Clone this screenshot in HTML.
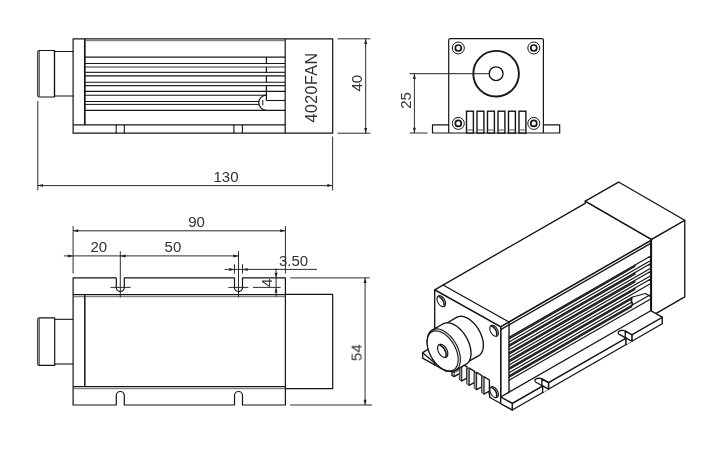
<!DOCTYPE html>
<html lang="en">
<head>
<meta charset="utf-8">
<title>4020FAN laser module dimensions</title>
<style>
html,body{margin:0;padding:0;background:#fff;}
body{width:711px;height:460px;overflow:hidden;}
svg{display:block;font-family:"Liberation Sans",sans-serif;}
</style>
</head>
<body>
<svg width="711" height="460" viewBox="0 0 711 460">
<rect x="0" y="0" width="711" height="460" fill="#ffffff"/>
<path d="M73.1 38.8 L332.7 38.8 L332.7 133.2 L73.1 133.2 Z" fill="none" stroke="#151515" stroke-width="1.2" stroke-linejoin="round" stroke-linecap="round"/>
<line x1="285.2" y1="38.8" x2="285.2" y2="133.2" stroke="#151515" stroke-width="1.2"/>
<line x1="84.8" y1="38.8" x2="84.8" y2="124.8" stroke="#151515" stroke-width="1.7"/>
<line x1="84.8" y1="40.7" x2="285.2" y2="40.7" stroke="#666" stroke-width="1"/>
<line x1="73.1" y1="124.8" x2="285.2" y2="124.8" stroke="#151515" stroke-width="1.2"/>
<line x1="116.2" y1="124.8" x2="116.2" y2="133.2" stroke="#151515" stroke-width="1.1"/>
<line x1="124.3" y1="124.8" x2="124.3" y2="133.2" stroke="#151515" stroke-width="1.1"/>
<line x1="233.9" y1="124.8" x2="233.9" y2="133.2" stroke="#151515" stroke-width="1.1"/>
<line x1="242.4" y1="124.8" x2="242.4" y2="133.2" stroke="#151515" stroke-width="1.1"/>
<path d="M54.5 50.5 L39.3 50.5 Q37.8 50.5 37.8 52 L37.8 95.5 Q37.8 97 39.3 97 L54.5 97 Z" fill="none" stroke="#151515" stroke-width="1.2" stroke-linejoin="round"/>
<line x1="39.4" y1="51" x2="39.4" y2="96.5" stroke="#444" stroke-width="0.9"/>
<path d="M54.5 51.5 L73.1 51.5" fill="none" stroke="#151515" stroke-width="1.1" stroke-linejoin="round" stroke-linecap="round"/>
<path d="M54.5 96 L73.1 96" fill="none" stroke="#151515" stroke-width="1.1" stroke-linejoin="round" stroke-linecap="round"/>
<line x1="54.5" y1="50.5" x2="54.5" y2="97" stroke="#151515" stroke-width="1.2"/>
<line x1="84.8" y1="57.1" x2="285.2" y2="57.1" stroke="#151515" stroke-width="1.1"/>
<line x1="84.8" y1="91.4" x2="285.2" y2="91.4" stroke="#151515" stroke-width="1.1"/>
<line x1="84.8" y1="110.4" x2="285.2" y2="110.4" stroke="#151515" stroke-width="1.1"/>
<line x1="84.8" y1="63.5" x2="285.2" y2="63.5" stroke="#151515" stroke-width="1.1"/>
<line x1="84.8" y1="67" x2="285.2" y2="67" stroke="#333" stroke-width="1.1"/>
<line x1="84.8" y1="72.4" x2="285.2" y2="72.4" stroke="#333" stroke-width="1.1"/>
<line x1="84.8" y1="75.9" x2="285.2" y2="75.9" stroke="#151515" stroke-width="1.1"/>
<line x1="84.8" y1="82.3" x2="285.2" y2="82.3" stroke="#151515" stroke-width="1.1"/>
<line x1="84.8" y1="85.6" x2="285.2" y2="85.6" stroke="#222" stroke-width="1.4"/>
<line x1="84.8" y1="95.2" x2="266.4" y2="95.2" stroke="#151515" stroke-width="1.1"/>
<line x1="84.8" y1="101.5" x2="259" y2="101.5" stroke="#151515" stroke-width="1"/>
<line x1="84.8" y1="104.4" x2="259" y2="104.4" stroke="#151515" stroke-width="1"/>
<line x1="266.4" y1="57.1" x2="266.4" y2="63.5" stroke="#151515" stroke-width="1.2"/>
<line x1="266.4" y1="67" x2="266.4" y2="72.4" stroke="#151515" stroke-width="1.2"/>
<line x1="266.4" y1="75.9" x2="266.4" y2="82.3" stroke="#151515" stroke-width="1.2"/>
<line x1="266.4" y1="85.6" x2="266.4" y2="91.4" stroke="#151515" stroke-width="1.2"/>
<line x1="266.4" y1="91.4" x2="266.4" y2="100.5" stroke="#151515" stroke-width="1.2"/>
<line x1="266.4" y1="100.5" x2="285.2" y2="100.5" stroke="#151515" stroke-width="1.1"/>
<path d="M266.4 95.2 A7.6 7.6 0 0 0 266.4 110.4" fill="none" stroke="#151515" stroke-width="1.2" stroke-linejoin="round"/>
<line x1="262.8" y1="100" x2="262.8" y2="105.5" stroke="#151515" stroke-width="1"/>
<line x1="337.5" y1="38.8" x2="370.4" y2="38.8" stroke="#222" stroke-width="0.95"/>
<line x1="337.5" y1="133.2" x2="370.4" y2="133.2" stroke="#222" stroke-width="0.95"/>
<line x1="365.7" y1="38.8" x2="365.7" y2="133.2" stroke="#222" stroke-width="0.95"/>
<polygon points="365.7,38.8 367.2,44 364.2,44" fill="#222"/>
<polygon points="365.7,133.2 364.2,128 367.2,128" fill="#222"/>
<line x1="37.8" y1="101" x2="37.8" y2="190.3" stroke="#222" stroke-width="0.95"/>
<line x1="332.6" y1="136.5" x2="332.6" y2="190.5" stroke="#222" stroke-width="0.95"/>
<line x1="37.8" y1="185.6" x2="332.6" y2="185.6" stroke="#222" stroke-width="0.95"/>
<polygon points="37.8,185.6 43,184.1 43,187.1" fill="#222"/>
<polygon points="332.6,185.6 327.4,187.1 327.4,184.1" fill="#222"/>
<path d="M448.7 133 L448.7 40.2 Q448.7 38.7 450.2 38.7 L541.9 38.7 Q543.4 38.7 543.4 40.2 L543.4 133" fill="none" stroke="#151515" stroke-width="1.2" stroke-linejoin="round"/>
<path d="M448.7 124.8 L432.5 124.8 L432.5 133 L559.7 133 L559.7 124.8 L543.4 124.8" fill="none" stroke="#151515" stroke-width="1.2" stroke-linejoin="round" stroke-linecap="round"/>
<circle cx="496.1" cy="73.7" r="22.8" fill="none" stroke="#151515" stroke-width="1.9"/>
<circle cx="496.1" cy="73.7" r="6.9" fill="none" stroke="#151515" stroke-width="1.3"/>
<circle cx="458.3" cy="48" r="6" fill="#fff" stroke="#151515" stroke-width="1"/>
<circle cx="458.3" cy="48" r="3" fill="none" stroke="#151515" stroke-width="1.7"/>
<circle cx="458.3" cy="123.4" r="6" fill="#fff" stroke="#151515" stroke-width="1"/>
<circle cx="458.3" cy="123.4" r="3" fill="none" stroke="#151515" stroke-width="1.7"/>
<circle cx="533.8" cy="48" r="6" fill="#fff" stroke="#151515" stroke-width="1"/>
<circle cx="533.8" cy="48" r="3" fill="none" stroke="#151515" stroke-width="1.7"/>
<circle cx="533.8" cy="123.4" r="6" fill="#fff" stroke="#151515" stroke-width="1"/>
<circle cx="533.8" cy="123.4" r="3" fill="none" stroke="#151515" stroke-width="1.7"/>
<rect x="466.5" y="111.2" width="6.9" height="21.8" fill="#fff" stroke="#151515" stroke-width="1.4"/>
<line x1="466.5" y1="130" x2="473.4" y2="130" stroke="#555" stroke-width="1"/>
<rect x="477" y="111.2" width="6.9" height="21.8" fill="#fff" stroke="#151515" stroke-width="1.4"/>
<line x1="477" y1="130" x2="483.9" y2="130" stroke="#555" stroke-width="1"/>
<rect x="487.5" y="111.2" width="6.9" height="21.8" fill="#fff" stroke="#151515" stroke-width="1.4"/>
<line x1="487.5" y1="130" x2="494.4" y2="130" stroke="#555" stroke-width="1"/>
<rect x="498" y="111.2" width="6.9" height="21.8" fill="#fff" stroke="#151515" stroke-width="1.4"/>
<line x1="498" y1="130" x2="504.9" y2="130" stroke="#555" stroke-width="1"/>
<rect x="508.5" y="111.2" width="6.9" height="21.8" fill="#fff" stroke="#151515" stroke-width="1.4"/>
<line x1="508.5" y1="130" x2="515.4" y2="130" stroke="#555" stroke-width="1"/>
<rect x="519" y="111.2" width="6.9" height="21.8" fill="#fff" stroke="#151515" stroke-width="1.4"/>
<line x1="519" y1="130" x2="525.9" y2="130" stroke="#555" stroke-width="1"/>
<line x1="409.6" y1="73.7" x2="489.2" y2="73.7" stroke="#222" stroke-width="1"/>
<line x1="409.6" y1="133" x2="427.5" y2="133" stroke="#222" stroke-width="0.95"/>
<line x1="414.4" y1="73.7" x2="414.4" y2="133" stroke="#222" stroke-width="0.95"/>
<polygon points="414.4,73.7 415.9,78.9 412.9,78.9" fill="#222"/>
<polygon points="414.4,133 412.9,127.8 415.9,127.8" fill="#222"/>
<path d="M73.1 277.9 L116.3 277.9 L116.3 287.4 A4 4 0 0 0 124.3 287.4 L124.3 277.9 L234.5 277.9 L234.5 287.4 A4 4 0 0 0 242.5 287.4 L242.5 277.9 L285.4 277.9 L285.4 405 L242.5 405 L242.5 395.5 A4 4 0 0 0 234.5 395.5 L234.5 405 L124.3 405 L124.3 395.5 A4 4 0 0 0 116.3 395.5 L116.3 405 L73.1 405 Z" fill="none" stroke="#151515" stroke-width="1.2" stroke-linejoin="round"/>
<line x1="73.1" y1="294.6" x2="285.4" y2="294.6" stroke="#151515" stroke-width="1.2"/>
<line x1="73.1" y1="296.7" x2="285.4" y2="296.7" stroke="#555" stroke-width="0.9"/>
<line x1="73.1" y1="386.7" x2="285.4" y2="386.7" stroke="#151515" stroke-width="1.2"/>
<line x1="73.1" y1="388.7" x2="285.4" y2="388.7" stroke="#555" stroke-width="0.9"/>
<line x1="84.8" y1="294.6" x2="84.8" y2="386.7" stroke="#151515" stroke-width="1.5"/>
<path d="M285.4 294.4 L332.7 294.4 L332.7 388.7 L285.4 388.7" fill="none" stroke="#151515" stroke-width="1.2" stroke-linejoin="round" stroke-linecap="round"/>
<path d="M54.7 317.9 L39.3 317.9 Q37.8 317.9 37.8 319.4 L37.8 363.9 Q37.8 365.4 39.3 365.4 L54.7 365.4 Z" fill="none" stroke="#151515" stroke-width="1.2" stroke-linejoin="round"/>
<line x1="39.4" y1="318.5" x2="39.4" y2="365" stroke="#444" stroke-width="0.9"/>
<line x1="54.7" y1="319.3" x2="73.1" y2="319.3" stroke="#151515" stroke-width="1.1"/>
<line x1="54.7" y1="364" x2="73.1" y2="364" stroke="#151515" stroke-width="1.1"/>
<line x1="73.1" y1="226.2" x2="73.1" y2="273.5" stroke="#222" stroke-width="0.95"/>
<line x1="285.4" y1="226.1" x2="285.4" y2="273.6" stroke="#222" stroke-width="0.95"/>
<line x1="73.1" y1="230.8" x2="285.4" y2="230.8" stroke="#222" stroke-width="0.95"/>
<polygon points="73.1,230.8 78.3,229.3 78.3,232.3" fill="#222"/>
<polygon points="285.4,230.8 280.2,232.3 280.2,229.3" fill="#222"/>
<line x1="63.9" y1="255.9" x2="238.5" y2="255.9" stroke="#222" stroke-width="0.95"/>
<polygon points="73.1,255.9 67.9,257.4 67.9,254.4" fill="#222"/>
<polygon points="120.3,255.9 125.5,254.4 125.5,257.4" fill="#222"/>
<polygon points="238.5,255.9 233.3,257.4 233.3,254.4" fill="#222"/>
<line x1="120.3" y1="251.2" x2="120.3" y2="297.4" stroke="#222" stroke-width="0.95"/>
<line x1="238.5" y1="251.2" x2="238.5" y2="297.3" stroke="#222" stroke-width="0.95"/>
<line x1="110.5" y1="287.4" x2="130.5" y2="287.4" stroke="#222" stroke-width="0.95"/>
<line x1="228.4" y1="287.4" x2="248.4" y2="287.4" stroke="#222" stroke-width="0.95"/>
<line x1="224.6" y1="269.4" x2="317" y2="269.4" stroke="#222" stroke-width="0.95"/>
<line x1="234.5" y1="264.2" x2="234.5" y2="273.6" stroke="#222" stroke-width="0.95"/>
<line x1="242.5" y1="264.2" x2="242.5" y2="273.6" stroke="#222" stroke-width="0.95"/>
<polygon points="234.5,269.4 229.3,270.9 229.3,267.9" fill="#222"/>
<polygon points="242.5,269.4 247.7,267.9 247.7,270.9" fill="#222"/>
<line x1="276.1" y1="268.3" x2="276.1" y2="296.5" stroke="#222" stroke-width="0.95"/>
<polygon points="276.1,277.9 274.6,272.7 277.6,272.7" fill="#222"/>
<polygon points="276.1,287.4 277.6,292.6 274.6,292.6" fill="#222"/>
<line x1="253" y1="287.4" x2="280.6" y2="287.4" stroke="#222" stroke-width="0.95"/>
<line x1="290.2" y1="277.9" x2="369.7" y2="277.9" stroke="#222" stroke-width="0.95"/>
<line x1="290.2" y1="405" x2="372" y2="405" stroke="#222" stroke-width="0.95"/>
<line x1="365.1" y1="277.9" x2="365.1" y2="405" stroke="#222" stroke-width="0.95"/>
<polygon points="365.1,277.9 366.6,283.1 363.6,283.1" fill="#222"/>
<polygon points="365.1,405 363.6,399.8 366.6,399.8" fill="#222"/>
<path d="M585.23 277.88 L651.43 316.08 L651.43 239.4 L585.23 201.2 Z" fill="#fff" stroke="#151515" stroke-width="1.35" stroke-linejoin="round" stroke-linecap="round"/>
<path d="M651.43 316.08 L684.77 296.92 L684.77 220.24 L651.43 239.4 Z" fill="#fff" stroke="#151515" stroke-width="1.35" stroke-linejoin="round" stroke-linecap="round"/>
<path d="M585.23 201.2 L651.43 239.4 L684.77 220.24 L618.57 182.04 Z" fill="#fff" stroke="#151515" stroke-width="1.35" stroke-linejoin="round" stroke-linecap="round"/>
<path d="M422.6 352.7 L428.5 349.2 L434.7 352 L434.7 364.8 L422.6 358.1 Z" fill="#fff" stroke="#151515" stroke-width="1.35" stroke-linejoin="round" stroke-linecap="round"/>
<path d="M422.6 352.7 L434.7 363" fill="none" stroke="#151515" stroke-width="1.35" stroke-linejoin="round" stroke-linecap="round"/>
<path d="M500.7 396.98 L512.25 403.46 L662.28 317.24 L650.73 310.76 Z" fill="#fff" stroke="#151515" stroke-width="1.35" stroke-linejoin="round" stroke-linecap="round"/>
<path d="M512.25 409.98 L512.25 403.46 L662.28 317.24 L662.28 323.75 Z" fill="#fff" stroke="#151515" stroke-width="1.35" stroke-linejoin="round" stroke-linecap="round"/>
<path d="M500.7 403.5 L512.25 409.98 L512.25 403.46 L500.7 396.98 Z" fill="#fff" stroke="#151515" stroke-width="1.35" stroke-linejoin="round" stroke-linecap="round"/>
<path d="M542.67 385.97 L536.07 382.27 L535.62 381.97 L535.26 381.62 L535.02 381.24 L534.9 380.84 L534.9 380.43 L535.03 380.03 L535.28 379.65 L535.64 379.29 L536.1 378.98 L536.65 378.71 L537.27 378.5 L537.95 378.36 L538.65 378.28 L539.37 378.27 L540.07 378.34 L540.74 378.47 L541.36 378.67 L541.91 378.92 L548.51 382.62 L548.51 389.14 L542.67 392.49 Z" fill="#fff" stroke="none" stroke-width="0" stroke-linejoin="round" stroke-linecap="round"/>
<path d="M541.91 378.92 L548.51 382.62 L548.51 389.14 L541.91 385.44 Z" fill="#fff" stroke="#151515" stroke-width="1.35" stroke-linejoin="round" stroke-linecap="round"/>
<path d="M542.67 385.97 L536.07 382.27 L535.62 381.97 L535.26 381.62 L535.02 381.24 L534.9 380.84 L534.9 380.43 L535.03 380.03 L535.28 379.65 L535.64 379.29 L536.1 378.98 L536.65 378.71 L537.27 378.5 L537.95 378.36 L538.65 378.28 L539.37 378.27 L540.07 378.34 L540.74 378.47 L541.36 378.67 L541.91 378.92 L548.51 382.62" fill="none" stroke="#151515" stroke-width="1.35" stroke-linejoin="round" stroke-linecap="round"/>
<path d="M542.67 385.97 L542.67 392.49" fill="none" stroke="#151515" stroke-width="1.35" stroke-linejoin="round" stroke-linecap="round"/>
<path d="M626.02 338.07 L619.42 334.37 L618.97 334.07 L618.61 333.72 L618.37 333.34 L618.25 332.94 L618.25 332.53 L618.38 332.13 L618.63 331.75 L618.99 331.39 L619.45 331.08 L620 330.81 L620.62 330.6 L621.3 330.46 L622 330.38 L622.72 330.37 L623.42 330.44 L624.09 330.57 L624.71 330.77 L625.26 331.02 L631.86 334.72 L631.86 341.24 L626.02 344.59 Z" fill="#fff" stroke="none" stroke-width="0" stroke-linejoin="round" stroke-linecap="round"/>
<path d="M625.26 331.02 L631.86 334.72 L631.86 341.24 L625.26 337.54 Z" fill="#fff" stroke="#151515" stroke-width="1.35" stroke-linejoin="round" stroke-linecap="round"/>
<path d="M626.02 338.07 L619.42 334.37 L618.97 334.07 L618.61 333.72 L618.37 333.34 L618.25 332.94 L618.25 332.53 L618.38 332.13 L618.63 331.75 L618.99 331.39 L619.45 331.08 L620 330.81 L620.62 330.6 L621.3 330.46 L622 330.38 L622.72 330.37 L623.42 330.44 L624.09 330.57 L624.71 330.77 L625.26 331.02 L631.86 334.72" fill="none" stroke="#151515" stroke-width="1.35" stroke-linejoin="round" stroke-linecap="round"/>
<path d="M626.02 338.07 L626.02 344.59" fill="none" stroke="#151515" stroke-width="1.35" stroke-linejoin="round" stroke-linecap="round"/>
<path d="M434.7 289.82 L584.73 203.6 L650.73 240.6 L500.7 326.82 Z" fill="#fff" stroke="none" stroke-width="0" stroke-linejoin="round" stroke-linecap="round"/>
<path d="M584.73 203.6 L434.7 289.82 L500.7 326.82 L650.73 240.6" fill="none" stroke="#151515" stroke-width="1.35" stroke-linejoin="round" stroke-linecap="round"/>
<path d="M500.7 403.5 L650.73 317.28 L650.73 240.6 L500.7 326.82 Z" fill="#fff" stroke="#151515" stroke-width="1.35" stroke-linejoin="round" stroke-linecap="round"/>
<path d="M434.7 366.5 L500.7 403.5 L500.7 326.82 L434.7 289.82 Z" fill="#fff" stroke="none" stroke-width="0" stroke-linejoin="round" stroke-linecap="round"/>
<path d="M489.97 397.49 L500.7 403.5 L500.7 326.82 L434.7 289.82 L434.7 364.97" fill="none" stroke="#151515" stroke-width="1.35" stroke-linejoin="round" stroke-linecap="round"/>
<path d="M488.4 389.5 L489.97 397.49" fill="none" stroke="#151515" stroke-width="1.35" stroke-linejoin="round" stroke-linecap="round"/>
<path d="M500.7 396.98 L512.25 403.46 L662.28 317.24 L650.73 310.76 Z" fill="#fff" stroke="#151515" stroke-width="1.35" stroke-linejoin="round" stroke-linecap="round"/>
<path d="M500.7 403.5 L512.25 409.98 L512.25 403.46 L500.7 396.98 Z" fill="#fff" stroke="#151515" stroke-width="1.35" stroke-linejoin="round" stroke-linecap="round"/>
<path d="M542.67 385.97 L536.07 382.27 L535.62 381.97 L535.26 381.62 L535.02 381.24 L534.9 380.84 L534.9 380.43 L535.03 380.03 L535.28 379.65 L535.64 379.29 L536.1 378.98 L536.65 378.71 L537.27 378.5 L537.95 378.36 L538.65 378.28 L539.37 378.27 L540.07 378.34 L540.74 378.47 L541.36 378.67 L541.91 378.92 L548.51 382.62 L548.51 389.14 L542.67 392.49 Z" fill="#fff" stroke="none" stroke-width="0" stroke-linejoin="round" stroke-linecap="round"/>
<path d="M541.91 378.92 L548.51 382.62 L548.51 389.14 L541.91 385.44 Z" fill="#fff" stroke="#151515" stroke-width="1.35" stroke-linejoin="round" stroke-linecap="round"/>
<path d="M542.67 385.97 L536.07 382.27 L535.62 381.97 L535.26 381.62 L535.02 381.24 L534.9 380.84 L534.9 380.43 L535.03 380.03 L535.28 379.65 L535.64 379.29 L536.1 378.98 L536.65 378.71 L537.27 378.5 L537.95 378.36 L538.65 378.28 L539.37 378.27 L540.07 378.34 L540.74 378.47 L541.36 378.67 L541.91 378.92 L548.51 382.62" fill="none" stroke="#151515" stroke-width="1.35" stroke-linejoin="round" stroke-linecap="round"/>
<path d="M542.67 385.97 L542.67 392.49" fill="none" stroke="#151515" stroke-width="1.35" stroke-linejoin="round" stroke-linecap="round"/>
<path d="M626.02 338.07 L619.42 334.37 L618.97 334.07 L618.61 333.72 L618.37 333.34 L618.25 332.94 L618.25 332.53 L618.38 332.13 L618.63 331.75 L618.99 331.39 L619.45 331.08 L620 330.81 L620.62 330.6 L621.3 330.46 L622 330.38 L622.72 330.37 L623.42 330.44 L624.09 330.57 L624.71 330.77 L625.26 331.02 L631.86 334.72 L631.86 341.24 L626.02 344.59 Z" fill="#fff" stroke="none" stroke-width="0" stroke-linejoin="round" stroke-linecap="round"/>
<path d="M625.26 331.02 L631.86 334.72 L631.86 341.24 L625.26 337.54 Z" fill="#fff" stroke="#151515" stroke-width="1.35" stroke-linejoin="round" stroke-linecap="round"/>
<path d="M626.02 338.07 L619.42 334.37 L618.97 334.07 L618.61 333.72 L618.37 333.34 L618.25 332.94 L618.25 332.53 L618.38 332.13 L618.63 331.75 L618.99 331.39 L619.45 331.08 L620 330.81 L620.62 330.6 L621.3 330.46 L622 330.38 L622.72 330.37 L623.42 330.44 L624.09 330.57 L624.71 330.77 L625.26 331.02 L631.86 334.72" fill="none" stroke="#151515" stroke-width="1.35" stroke-linejoin="round" stroke-linecap="round"/>
<path d="M626.02 338.07 L626.02 344.59" fill="none" stroke="#151515" stroke-width="1.35" stroke-linejoin="round" stroke-linecap="round"/>
<path d="M443.03 285.03 L509.03 322.03 L509.03 392.19" fill="none" stroke="#151515" stroke-width="1.35" stroke-linejoin="round" stroke-linecap="round"/>
<path d="M500.7 329.6 L650.73 243.38" fill="none" stroke="#151515" stroke-width="1.35" stroke-linejoin="round" stroke-linecap="round"/>
<path d="M509.03 337.33 L634.89 265 L634.89 266.61 L509.03 338.94 Z" fill="#666" stroke="none" stroke-width="0" stroke-linejoin="round" stroke-linecap="round"/>
<path d="M509.03 337.33 L650.73 255.9" fill="none" stroke="#151515" stroke-width="1.15" stroke-linejoin="round" stroke-linecap="round"/>
<path d="M509.03 338.94 L634.89 266.61 L634.89 265" fill="none" stroke="#151515" stroke-width="1.15" stroke-linejoin="round" stroke-linecap="round"/>
<path d="M509.03 341.97 L650.73 260.54" fill="none" stroke="#151515" stroke-width="1.15" stroke-linejoin="round" stroke-linecap="round"/>
<path d="M648.4 257.24 L650.73 257.62" fill="none" stroke="#151515" stroke-width="0.9" stroke-linejoin="round" stroke-linecap="round"/>
<path d="M509.03 345 L634.89 272.67 L634.89 274.28 L509.03 346.61 Z" fill="#666" stroke="none" stroke-width="0" stroke-linejoin="round" stroke-linecap="round"/>
<path d="M509.03 345 L650.73 263.57" fill="none" stroke="#151515" stroke-width="1.15" stroke-linejoin="round" stroke-linecap="round"/>
<path d="M509.03 346.61 L634.89 274.28 L634.89 272.67" fill="none" stroke="#151515" stroke-width="1.15" stroke-linejoin="round" stroke-linecap="round"/>
<path d="M509.03 349.63 L650.73 268.2" fill="none" stroke="#151515" stroke-width="1.15" stroke-linejoin="round" stroke-linecap="round"/>
<path d="M648.4 264.91 L650.73 265.29" fill="none" stroke="#151515" stroke-width="0.9" stroke-linejoin="round" stroke-linecap="round"/>
<path d="M509.03 352.66 L634.89 280.33 L634.89 281.94 L509.03 354.27 Z" fill="#666" stroke="none" stroke-width="0" stroke-linejoin="round" stroke-linecap="round"/>
<path d="M509.03 352.66 L650.73 271.23" fill="none" stroke="#151515" stroke-width="1.15" stroke-linejoin="round" stroke-linecap="round"/>
<path d="M509.03 354.27 L634.89 281.94 L634.89 280.33" fill="none" stroke="#151515" stroke-width="1.15" stroke-linejoin="round" stroke-linecap="round"/>
<path d="M509.03 357.3 L650.73 275.87" fill="none" stroke="#151515" stroke-width="1.15" stroke-linejoin="round" stroke-linecap="round"/>
<path d="M648.4 272.57 L650.73 272.96" fill="none" stroke="#151515" stroke-width="0.9" stroke-linejoin="round" stroke-linecap="round"/>
<path d="M509.03 360.33 L634.89 288 L634.89 289.61 L509.03 361.94 Z" fill="#666" stroke="none" stroke-width="0" stroke-linejoin="round" stroke-linecap="round"/>
<path d="M509.03 360.33 L650.73 278.9" fill="none" stroke="#151515" stroke-width="1.15" stroke-linejoin="round" stroke-linecap="round"/>
<path d="M509.03 361.94 L634.89 289.61 L634.89 288" fill="none" stroke="#151515" stroke-width="1.15" stroke-linejoin="round" stroke-linecap="round"/>
<path d="M509.03 364.97 L650.73 283.54" fill="none" stroke="#151515" stroke-width="1.15" stroke-linejoin="round" stroke-linecap="round"/>
<path d="M648.4 280.24 L650.73 280.63" fill="none" stroke="#151515" stroke-width="0.9" stroke-linejoin="round" stroke-linecap="round"/>
<path d="M509.03 368 L631.73 297.49 L631.73 299.1 L509.03 369.61 Z" fill="#666" stroke="none" stroke-width="0" stroke-linejoin="round" stroke-linecap="round"/>
<path d="M509.03 368 L631.73 297.49" fill="none" stroke="#151515" stroke-width="1.15" stroke-linejoin="round" stroke-linecap="round"/>
<path d="M509.03 369.61 L631.73 299.1 L631.73 297.49" fill="none" stroke="#151515" stroke-width="1.15" stroke-linejoin="round" stroke-linecap="round"/>
<path d="M509.03 372.64 L631.73 302.13" fill="none" stroke="#151515" stroke-width="1.15" stroke-linejoin="round" stroke-linecap="round"/>
<path d="M509.03 375.67 L631.73 305.16 L631.73 306.77 L509.03 377.28 Z" fill="#666" stroke="none" stroke-width="0" stroke-linejoin="round" stroke-linecap="round"/>
<path d="M509.03 375.67 L631.73 305.16" fill="none" stroke="#151515" stroke-width="1.15" stroke-linejoin="round" stroke-linecap="round"/>
<path d="M509.03 377.28 L631.73 306.77 L631.73 305.16" fill="none" stroke="#151515" stroke-width="1.15" stroke-linejoin="round" stroke-linecap="round"/>
<path d="M509.03 380.31 L650.73 298.88" fill="none" stroke="#151515" stroke-width="1.15" stroke-linejoin="round" stroke-linecap="round"/>
<path d="M631.73 297.34 Q630.53 301.22 632.83 305.1" fill="none" stroke="#151515" stroke-width="1.6" stroke-linejoin="round"/>
<path d="M631.73 297.34 L645.53 293.44 L650.73 296.74" fill="none" stroke="#151515" stroke-width="1.1" stroke-linejoin="round" stroke-linecap="round"/>
<path d="M632.23 305.1 L650.73 294.47" fill="none" stroke="#151515" stroke-width="1.1" stroke-linejoin="round" stroke-linecap="round"/>
<path d="M445.59 303.59 L445.57 303.15 L445.52 302.69 L445.44 302.22 L445.33 301.74 L445.19 301.26 L445.02 300.78 L444.81 300.3 L444.59 299.83 L444.33 299.36 L444.06 298.92 L443.76 298.48 L443.44 298.07 L443.11 297.69 L442.77 297.33 L442.41 297 L442.04 296.7 L441.67 296.43 L441.3 296.2 L440.93 296.01 L440.56 295.86 L440.19 295.75 L439.83 295.68 L439.49 295.65 L439.15 295.67 L438.84 295.73 L438.54 295.82 L438.27 295.96 L438.01 296.14 L437.79 296.36 L437.58 296.61 L437.41 296.9 L437.27 297.22 L437.16 297.57 L437.08 297.95 L437.03 298.36 L437.01 298.78 L437.03 299.23 L437.08 299.69 L437.16 300.15 L437.27 300.63 L437.41 301.11 L437.58 301.6 L437.79 302.08 L438.01 302.55 L438.27 303.01 L438.54 303.46 L438.84 303.89 L439.15 304.3 L439.49 304.69 L439.83 305.05 L440.19 305.38 L440.56 305.68 L440.93 305.94 L441.3 306.17 L441.67 306.36 L442.04 306.51 L442.41 306.62 L442.77 306.69 L443.11 306.72 L443.44 306.71 L443.76 306.65 L444.06 306.55 L444.33 306.41 L444.59 306.23 L444.81 306.02 L445.02 305.76 L445.19 305.47 L445.33 305.15 L445.44 304.8 L445.52 304.42 L445.57 304.02 L445.59 303.59 Z" fill="#fff" stroke="#151515" stroke-width="1.1" stroke-linejoin="round" stroke-linecap="round"/>
<clipPath id="h4_36"><path d="M445.59 303.59 L445.57 303.15 L445.52 302.69 L445.44 302.22 L445.33 301.74 L445.19 301.26 L445.02 300.78 L444.81 300.3 L444.59 299.83 L444.33 299.36 L444.06 298.92 L443.76 298.48 L443.44 298.07 L443.11 297.69 L442.77 297.33 L442.41 297 L442.04 296.7 L441.67 296.43 L441.3 296.2 L440.93 296.01 L440.56 295.86 L440.19 295.75 L439.83 295.68 L439.49 295.65 L439.15 295.67 L438.84 295.73 L438.54 295.82 L438.27 295.96 L438.01 296.14 L437.79 296.36 L437.58 296.61 L437.41 296.9 L437.27 297.22 L437.16 297.57 L437.08 297.95 L437.03 298.36 L437.01 298.78 L437.03 299.23 L437.08 299.69 L437.16 300.15 L437.27 300.63 L437.41 301.11 L437.58 301.6 L437.79 302.08 L438.01 302.55 L438.27 303.01 L438.54 303.46 L438.84 303.89 L439.15 304.3 L439.49 304.69 L439.83 305.05 L440.19 305.38 L440.56 305.68 L440.93 305.94 L441.3 306.17 L441.67 306.36 L442.04 306.51 L442.41 306.62 L442.77 306.69 L443.11 306.72 L443.44 306.71 L443.76 306.65 L444.06 306.55 L444.33 306.41 L444.59 306.23 L444.81 306.02 L445.02 305.76 L445.19 305.47 L445.33 305.15 L445.44 304.8 L445.52 304.42 L445.57 304.02 L445.59 303.59 Z"/></clipPath>
<path d="M440.91 307.49 L441.08 307.53 L441.26 307.56 L441.43 307.57 L441.59 307.58 L441.76 307.58 L441.92 307.57 L442.07 307.55 L442.23 307.52 L442.37 307.48 L442.52 307.43 L442.66 307.37 L442.79 307.3 L442.92 307.22 L443.04 307.13 L443.16 307.04 L443.27 306.93 L443.37 306.82 L443.47 306.69 L443.56 306.56 L443.64 306.42 L443.72 306.27 L443.79 306.12 L443.85 305.95 L443.91 305.78 L443.96 305.61 L444 305.42 L444.03 305.23 L444.06 305.04 L444.08 304.84 L444.09 304.63 L444.09 304.42 L444.08 304.21 L444.07 303.99 L444.05 303.77 L444.02 303.55 L443.99 303.32 L443.94 303.09 L443.89 302.86 L443.84 302.63 L443.77 302.39 L443.7 302.16 L443.62 301.92 L443.53 301.69 L443.44 301.45 L443.34 301.22 L443.23 300.99 L443.12 300.76 L443 300.53 L442.88 300.31 L442.75 300.09 L442.62 299.87 L442.48 299.66 L442.33 299.45 L442.18 299.24 L442.03 299.04 L441.87 298.85 L441.71 298.66 L441.55 298.48 L441.38 298.3 L441.21 298.13 L441.04 297.97 L440.86 297.81 L440.68 297.67 L440.5 297.53 L440.32 297.4 L440.14 297.27 L439.96 297.16 L439.78 297.05 L439.6 296.96 L439.42 296.87 L439.23 296.79 L439.05 296.72" fill="none" stroke="#151515" stroke-width="1.5" stroke-linejoin="round" stroke-linecap="round" clip-path="url(#h4_36)"/>
<path d="M498.39 333.19 L498.37 332.75 L498.32 332.29 L498.24 331.82 L498.13 331.34 L497.99 330.86 L497.82 330.38 L497.61 329.9 L497.39 329.43 L497.13 328.96 L496.86 328.52 L496.56 328.08 L496.25 327.67 L495.91 327.29 L495.57 326.93 L495.21 326.6 L494.84 326.3 L494.47 326.03 L494.1 325.8 L493.73 325.61 L493.36 325.46 L492.99 325.35 L492.63 325.28 L492.29 325.25 L491.95 325.27 L491.64 325.33 L491.34 325.42 L491.07 325.56 L490.81 325.74 L490.59 325.96 L490.38 326.21 L490.21 326.5 L490.07 326.82 L489.96 327.17 L489.88 327.55 L489.83 327.96 L489.81 328.38 L489.83 328.83 L489.88 329.29 L489.96 329.75 L490.07 330.23 L490.21 330.71 L490.38 331.2 L490.59 331.68 L490.81 332.15 L491.07 332.61 L491.34 333.06 L491.64 333.49 L491.95 333.9 L492.29 334.29 L492.63 334.65 L492.99 334.98 L493.36 335.28 L493.73 335.54 L494.1 335.77 L494.47 335.96 L494.84 336.11 L495.21 336.22 L495.57 336.29 L495.91 336.32 L496.25 336.31 L496.56 336.25 L496.86 336.15 L497.13 336.01 L497.39 335.83 L497.61 335.62 L497.82 335.36 L497.99 335.07 L498.13 334.75 L498.24 334.4 L498.32 334.02 L498.37 333.62 L498.39 333.19 Z" fill="#fff" stroke="#151515" stroke-width="1.1" stroke-linejoin="round" stroke-linecap="round"/>
<clipPath id="h36_36"><path d="M498.39 333.19 L498.37 332.75 L498.32 332.29 L498.24 331.82 L498.13 331.34 L497.99 330.86 L497.82 330.38 L497.61 329.9 L497.39 329.43 L497.13 328.96 L496.86 328.52 L496.56 328.08 L496.25 327.67 L495.91 327.29 L495.57 326.93 L495.21 326.6 L494.84 326.3 L494.47 326.03 L494.1 325.8 L493.73 325.61 L493.36 325.46 L492.99 325.35 L492.63 325.28 L492.29 325.25 L491.95 325.27 L491.64 325.33 L491.34 325.42 L491.07 325.56 L490.81 325.74 L490.59 325.96 L490.38 326.21 L490.21 326.5 L490.07 326.82 L489.96 327.17 L489.88 327.55 L489.83 327.96 L489.81 328.38 L489.83 328.83 L489.88 329.29 L489.96 329.75 L490.07 330.23 L490.21 330.71 L490.38 331.2 L490.59 331.68 L490.81 332.15 L491.07 332.61 L491.34 333.06 L491.64 333.49 L491.95 333.9 L492.29 334.29 L492.63 334.65 L492.99 334.98 L493.36 335.28 L493.73 335.54 L494.1 335.77 L494.47 335.96 L494.84 336.11 L495.21 336.22 L495.57 336.29 L495.91 336.32 L496.25 336.31 L496.56 336.25 L496.86 336.15 L497.13 336.01 L497.39 335.83 L497.61 335.62 L497.82 335.36 L497.99 335.07 L498.13 334.75 L498.24 334.4 L498.32 334.02 L498.37 333.62 L498.39 333.19 Z"/></clipPath>
<path d="M493.71 337.09 L493.88 337.13 L494.06 337.16 L494.23 337.17 L494.39 337.18 L494.56 337.18 L494.72 337.17 L494.87 337.15 L495.03 337.12 L495.17 337.08 L495.32 337.03 L495.46 336.97 L495.59 336.9 L495.72 336.82 L495.84 336.73 L495.96 336.64 L496.07 336.53 L496.17 336.42 L496.27 336.29 L496.36 336.16 L496.44 336.02 L496.52 335.87 L496.59 335.72 L496.65 335.55 L496.71 335.38 L496.76 335.21 L496.8 335.02 L496.83 334.83 L496.86 334.64 L496.88 334.44 L496.89 334.23 L496.89 334.02 L496.88 333.81 L496.87 333.59 L496.85 333.37 L496.82 333.15 L496.79 332.92 L496.74 332.69 L496.69 332.46 L496.64 332.23 L496.57 331.99 L496.5 331.76 L496.42 331.52 L496.33 331.29 L496.24 331.05 L496.14 330.82 L496.03 330.59 L495.92 330.36 L495.8 330.13 L495.68 329.91 L495.55 329.69 L495.42 329.47 L495.28 329.26 L495.13 329.05 L494.98 328.84 L494.83 328.64 L494.67 328.45 L494.51 328.26 L494.35 328.08 L494.18 327.9 L494.01 327.73 L493.84 327.57 L493.66 327.41 L493.48 327.27 L493.3 327.13 L493.12 327 L492.94 326.87 L492.76 326.76 L492.58 326.65 L492.4 326.56 L492.22 326.47 L492.03 326.39 L491.85 326.32" fill="none" stroke="#151515" stroke-width="1.5" stroke-linejoin="round" stroke-linecap="round" clip-path="url(#h36_36)"/>
<path d="M498.39 394.54 L498.37 394.09 L498.32 393.63 L498.24 393.17 L498.13 392.69 L497.99 392.21 L497.82 391.72 L497.61 391.24 L497.39 390.77 L497.13 390.31 L496.86 389.86 L496.56 389.43 L496.25 389.02 L495.91 388.63 L495.57 388.27 L495.21 387.94 L494.84 387.64 L494.47 387.38 L494.1 387.15 L493.73 386.96 L493.36 386.81 L492.99 386.7 L492.63 386.63 L492.29 386.6 L491.95 386.61 L491.64 386.67 L491.34 386.77 L491.07 386.91 L490.81 387.09 L490.59 387.3 L490.38 387.56 L490.21 387.85 L490.07 388.17 L489.96 388.52 L489.88 388.9 L489.83 389.3 L489.81 389.73 L489.83 390.17 L489.88 390.63 L489.96 391.1 L490.07 391.58 L490.21 392.06 L490.38 392.54 L490.59 393.02 L490.81 393.49 L491.07 393.96 L491.34 394.4 L491.64 394.84 L491.95 395.25 L492.29 395.63 L492.63 395.99 L492.99 396.32 L493.36 396.62 L493.73 396.89 L494.1 397.12 L494.47 397.31 L494.84 397.46 L495.21 397.57 L495.57 397.64 L495.91 397.67 L496.25 397.65 L496.56 397.59 L496.86 397.5 L497.13 397.36 L497.39 397.18 L497.61 396.96 L497.82 396.71 L497.99 396.42 L498.13 396.1 L498.24 395.75 L498.32 395.37 L498.37 394.96 L498.39 394.54 Z" fill="#fff" stroke="#151515" stroke-width="1.1" stroke-linejoin="round" stroke-linecap="round"/>
<clipPath id="h36_4"><path d="M498.39 394.54 L498.37 394.09 L498.32 393.63 L498.24 393.17 L498.13 392.69 L497.99 392.21 L497.82 391.72 L497.61 391.24 L497.39 390.77 L497.13 390.31 L496.86 389.86 L496.56 389.43 L496.25 389.02 L495.91 388.63 L495.57 388.27 L495.21 387.94 L494.84 387.64 L494.47 387.38 L494.1 387.15 L493.73 386.96 L493.36 386.81 L492.99 386.7 L492.63 386.63 L492.29 386.6 L491.95 386.61 L491.64 386.67 L491.34 386.77 L491.07 386.91 L490.81 387.09 L490.59 387.3 L490.38 387.56 L490.21 387.85 L490.07 388.17 L489.96 388.52 L489.88 388.9 L489.83 389.3 L489.81 389.73 L489.83 390.17 L489.88 390.63 L489.96 391.1 L490.07 391.58 L490.21 392.06 L490.38 392.54 L490.59 393.02 L490.81 393.49 L491.07 393.96 L491.34 394.4 L491.64 394.84 L491.95 395.25 L492.29 395.63 L492.63 395.99 L492.99 396.32 L493.36 396.62 L493.73 396.89 L494.1 397.12 L494.47 397.31 L494.84 397.46 L495.21 397.57 L495.57 397.64 L495.91 397.67 L496.25 397.65 L496.56 397.59 L496.86 397.5 L497.13 397.36 L497.39 397.18 L497.61 396.96 L497.82 396.71 L497.99 396.42 L498.13 396.1 L498.24 395.75 L498.32 395.37 L498.37 394.96 L498.39 394.54 Z"/></clipPath>
<path d="M493.71 398.43 L493.88 398.47 L494.06 398.5 L494.23 398.52 L494.39 398.53 L494.56 398.53 L494.72 398.52 L494.87 398.5 L495.03 398.46 L495.17 398.42 L495.32 398.37 L495.46 398.31 L495.59 398.25 L495.72 398.17 L495.84 398.08 L495.96 397.98 L496.07 397.87 L496.17 397.76 L496.27 397.64 L496.36 397.5 L496.44 397.36 L496.52 397.22 L496.59 397.06 L496.65 396.9 L496.71 396.73 L496.76 396.55 L496.8 396.37 L496.83 396.18 L496.86 395.98 L496.88 395.78 L496.89 395.58 L496.89 395.37 L496.88 395.15 L496.87 394.94 L496.85 394.72 L496.82 394.49 L496.79 394.26 L496.74 394.03 L496.69 393.8 L496.64 393.57 L496.57 393.34 L496.5 393.1 L496.42 392.87 L496.33 392.63 L496.24 392.4 L496.14 392.17 L496.03 391.93 L495.92 391.7 L495.8 391.48 L495.68 391.25 L495.55 391.03 L495.42 390.81 L495.28 390.6 L495.13 390.39 L494.98 390.19 L494.83 389.99 L494.67 389.79 L494.51 389.6 L494.35 389.42 L494.18 389.25 L494.01 389.08 L493.84 388.91 L493.66 388.76 L493.48 388.61 L493.3 388.47 L493.12 388.34 L492.94 388.22 L492.76 388.1 L492.58 388 L492.4 387.9 L492.22 387.81 L492.03 387.74 L491.85 387.67" fill="none" stroke="#151515" stroke-width="1.5" stroke-linejoin="round" stroke-linecap="round" clip-path="url(#h36_4)"/>
<path d="M452 371.6 L459.8 367.2 L459.8 373.4 L454.2 376.6 L452 375.4 Z" fill="#fff" stroke="#151515" stroke-width="1.35" stroke-linejoin="round" stroke-linecap="round"/>
<path d="M454.2 376.6 L454.2 372.6 L452 371.6" fill="none" stroke="#151515" stroke-width="0.9" stroke-linejoin="round" stroke-linecap="round"/>
<path d="M454.2 372.6 L459.8 369.4" fill="none" stroke="#151515" stroke-width="0.9" stroke-linejoin="round" stroke-linecap="round"/>
<path d="M459.55 364.45 L461.75 363.75 L467.05 366.95 L467.05 378.05 L461.75 380.95 L459.55 379.15 Z" fill="#fff" stroke="#151515" stroke-width="1.35" stroke-linejoin="round" stroke-linecap="round"/>
<path d="M459.55 364.45 L461.75 363.75 L461.75 380.95 L459.55 379.15 Z" fill="#999" stroke="none" stroke-width="0" stroke-linejoin="round" stroke-linecap="round"/>
<path d="M461.75 363.75 L461.75 380.95" fill="none" stroke="#151515" stroke-width="1" stroke-linejoin="round" stroke-linecap="round"/>
<path d="M467 368.8 L469.2 368.1 L474.5 371.3 L474.5 382.4 L469.2 385.3 L467 383.5 Z" fill="#fff" stroke="#151515" stroke-width="1.35" stroke-linejoin="round" stroke-linecap="round"/>
<path d="M467 368.8 L469.2 368.1 L469.2 385.3 L467 383.5 Z" fill="#999" stroke="none" stroke-width="0" stroke-linejoin="round" stroke-linecap="round"/>
<path d="M469.2 368.1 L469.2 385.3" fill="none" stroke="#151515" stroke-width="1" stroke-linejoin="round" stroke-linecap="round"/>
<path d="M474.45 373.15 L476.65 372.45 L481.95 375.65 L481.95 386.75 L476.65 389.65 L474.45 387.85 Z" fill="#fff" stroke="#151515" stroke-width="1.35" stroke-linejoin="round" stroke-linecap="round"/>
<path d="M474.45 373.15 L476.65 372.45 L476.65 389.65 L474.45 387.85 Z" fill="#999" stroke="none" stroke-width="0" stroke-linejoin="round" stroke-linecap="round"/>
<path d="M476.65 372.45 L476.65 389.65" fill="none" stroke="#151515" stroke-width="1" stroke-linejoin="round" stroke-linecap="round"/>
<path d="M481.9 377.5 L484.1 376.8 L489.4 380 L489.4 391.1 L484.1 394 L481.9 392.2 Z" fill="#fff" stroke="#151515" stroke-width="1.35" stroke-linejoin="round" stroke-linecap="round"/>
<path d="M481.9 377.5 L484.1 376.8 L484.1 394 L481.9 392.2 Z" fill="#999" stroke="none" stroke-width="0" stroke-linejoin="round" stroke-linecap="round"/>
<path d="M484.1 376.8 L484.1 394" fill="none" stroke="#151515" stroke-width="1" stroke-linejoin="round" stroke-linecap="round"/>
<path d="M438.86 335.28 L438.92 333.73 L439.09 332.25 L439.39 330.87 L439.8 329.58 L440.32 328.41 L440.96 327.35 L441.69 326.42 L442.52 325.63 L443.45 324.98 L456.62 317.41 L457.62 316.9 L458.71 316.54 L459.86 316.33 L461.07 316.28 L462.34 316.38 L463.64 316.63 L464.98 317.04 L466.33 317.59 L467.7 318.29 L469.07 319.12 L470.42 320.09 L471.76 321.18 L473.06 322.39 L474.32 323.71 L475.54 325.12 L476.69 326.62 L477.78 328.2 L478.78 329.84 L479.71 331.52 L480.54 333.25 L481.27 335 L481.91 336.77 L482.43 338.53 L482.84 340.27 L483.14 341.99 L483.31 343.67 L483.38 345.29 L483.31 346.84 L483.14 348.32 L482.84 349.7 L482.43 350.99 L481.91 352.16 L481.27 353.22 L480.54 354.14 L479.71 354.94 L478.78 355.59 L465.62 363.16 L464.61 363.67 L463.52 364.03 L462.37 364.23 L461.15 364.29 L459.89 364.19 L458.59 363.93 L457.25 363.53 L455.9 362.98 L454.53 362.28 L453.17 361.44 L451.81 360.48 L450.47 359.38 L449.17 358.18 L447.91 356.86 L446.69 355.45 L445.54 353.95 L444.45 352.37 L443.45 350.73 L442.52 349.04 L441.69 347.31 L440.96 345.56 L440.32 343.8 L439.8 342.04 L439.39 340.29 L439.09 338.58 L438.92 336.9 Z" fill="#fff" stroke="#151515" stroke-width="1.35" stroke-linejoin="round" stroke-linecap="round"/>
<path d="M427.19 342.18 L427.24 340.64 L427.42 339.18 L427.61 337.76 L427.92 336.3 L428.36 334.95 L428.91 333.71 L429.57 332.6 L430.35 331.63 L431.22 330.79 L432.19 330.1 L442.86 323.97 L443.93 323.44 L445.07 323.06 L446.28 322.84 L447.56 322.79 L448.89 322.89 L450.26 323.16 L451.67 323.58 L453.09 324.17 L454.53 324.9 L455.97 325.78 L457.4 326.8 L458.8 327.94 L460.17 329.22 L461.5 330.6 L462.78 332.09 L464 333.67 L465.14 335.33 L466.2 337.05 L467.17 338.83 L468.05 340.65 L468.82 342.49 L469.49 344.35 L470.04 346.2 L470.47 348.04 L470.78 349.85 L470.97 351.61 L471.03 353.32 L470.97 354.95 L470.78 356.51 L470.47 357.96 L470.04 359.32 L469.49 360.55 L468.82 361.66 L468.05 362.64 L467.17 363.48 L466.2 364.16 L455.53 370.3 L454.47 370.83 L453.33 371.21 L452.11 371.43 L450.83 371.48 L449.5 371.38 L448.13 371.11 L446.73 370.68 L445.3 370.1 L444.05 369.58 L442.69 368.89 L441.34 368.06 L440 367.11 L438.68 366.02 L437.39 364.83 L436.14 363.53 L434.94 362.13 L433.8 360.64 L432.73 359.08 L431.73 357.46 L430.81 355.79 L429.99 354.08 L429.26 352.35 L428.64 350.61 L428.12 348.86 L427.71 347.13 L427.42 345.44 L427.24 343.78 Z" fill="#fff" stroke="#151515" stroke-width="1.35" stroke-linejoin="round" stroke-linecap="round"/>
<path d="M460.36 359.45 L460.3 357.74 L460.11 355.98 L459.8 354.17 L459.37 352.33 L458.82 350.48 L458.15 348.63 L457.38 346.78 L456.5 344.96 L455.53 343.18 L454.47 341.46 L453.33 339.8 L452.11 338.22 L450.84 336.73 L449.51 335.35 L448.13 334.08 L446.73 332.93 L445.3 331.91 L443.86 331.03 L442.42 330.3 L441 329.71 L439.59 329.29 L438.22 329.02 L436.89 328.92 L435.61 328.97 L434.4 329.19 L433.26 329.57 L432.19 330.1 L431.22 330.79 L430.35 331.63 L429.57 332.6 L428.91 333.71 L428.36 334.95 L427.92 336.3 L427.61 337.76 L427.42 339.31 L427.36 340.95 L427.42 342.66 L427.61 344.42 L427.92 346.23 L428.36 348.06 L428.91 349.92 L429.57 351.77 L430.35 353.62 L431.22 355.44 L432.19 357.21 L433.26 358.94 L434.4 360.6 L435.61 362.18 L436.89 363.66 L438.22 365.05 L439.59 366.32 L441 367.47 L442.42 368.49 L443.86 369.37 L445.3 370.1 L446.73 370.68 L448.13 371.11 L449.51 371.38 L450.84 371.48 L452.11 371.43 L453.33 371.21 L454.47 370.83 L455.53 370.3 L456.5 369.61 L457.38 368.77 L458.15 367.8 L458.82 366.68 L459.37 365.45 L459.8 364.1 L460.11 362.64 L460.3 361.08 L460.36 359.45 Z" fill="none" stroke="#151515" stroke-width="1.15" stroke-linejoin="round" stroke-linecap="round"/>
<path d="M458.2 359.56 L458.15 357.96 L457.97 356.3 L457.68 354.6 L457.27 352.88 L456.75 351.13 L456.13 349.39 L455.4 347.66 L454.58 345.95 L453.66 344.28 L452.66 342.65 L451.59 341.1 L450.45 339.61 L449.25 338.21 L448 336.91 L446.71 335.71 L445.39 334.63 L444.05 333.68 L442.69 332.85 L441.34 332.16 L440 331.61 L438.68 331.21 L437.39 330.96 L436.14 330.86 L434.94 330.92 L433.8 331.12 L432.73 331.48 L431.73 331.98 L430.81 332.63 L429.99 333.41 L429.26 334.33 L428.64 335.37 L428.12 336.54 L427.71 337.81 L427.42 339.18 L427.24 340.64 L427.19 342.17 L427.24 343.78 L427.42 345.44 L427.71 347.14 L428.12 348.86 L428.64 350.61 L429.26 352.35 L429.99 354.08 L430.81 355.79 L431.73 357.46 L432.73 359.08 L433.8 360.64 L434.94 362.13 L436.14 363.53 L437.39 364.83 L438.68 366.03 L440 367.11 L441.34 368.06 L442.69 368.89 L444.05 369.58 L445.39 370.13 L446.71 370.53 L448 370.78 L449.25 370.88 L450.45 370.82 L451.59 370.62 L452.66 370.26 L453.66 369.76 L454.58 369.11 L455.4 368.33 L456.13 367.41 L456.75 366.37 L457.27 365.2 L457.68 363.93 L457.97 362.56 L458.15 361.1 L458.2 359.56 Z" fill="#fff" stroke="#151515" stroke-width="1.15" stroke-linejoin="round" stroke-linecap="round"/>
<path d="M447.81 353.74 L447.79 353.21 L447.73 352.66 L447.64 352.1 L447.5 351.53 L447.33 350.96 L447.12 350.38 L446.88 349.81 L446.61 349.25 L446.31 348.7 L445.98 348.16 L445.63 347.65 L445.25 347.16 L444.86 346.7 L444.44 346.27 L444.02 345.87 L443.58 345.52 L443.14 345.2 L442.69 344.93 L442.25 344.7 L441.81 344.52 L441.37 344.39 L440.95 344.3 L440.53 344.27 L440.14 344.29 L439.76 344.36 L439.41 344.47 L439.08 344.64 L438.78 344.85 L438.51 345.11 L438.27 345.42 L438.06 345.76 L437.89 346.14 L437.75 346.56 L437.66 347.01 L437.6 347.5 L437.58 348 L437.6 348.53 L437.66 349.08 L437.75 349.64 L437.89 350.21 L438.06 350.78 L438.27 351.36 L438.51 351.93 L438.78 352.49 L439.08 353.04 L439.41 353.58 L439.76 354.09 L440.14 354.58 L440.53 355.04 L440.95 355.47 L441.37 355.87 L441.81 356.22 L442.25 356.54 L442.69 356.81 L443.14 357.04 L443.58 357.22 L444.02 357.35 L444.44 357.43 L444.86 357.47 L445.25 357.45 L445.63 357.38 L445.98 357.27 L446.31 357.1 L446.61 356.89 L446.88 356.63 L447.12 356.32 L447.33 355.98 L447.5 355.6 L447.64 355.18 L447.73 354.73 L447.79 354.24 L447.81 353.74 Z" fill="#fff" stroke="#151515" stroke-width="1.2" stroke-linejoin="round" stroke-linecap="round"/>
<clipPath id="lh"><path d="M447.81 353.74 L447.79 353.21 L447.73 352.66 L447.64 352.1 L447.5 351.53 L447.33 350.96 L447.12 350.38 L446.88 349.81 L446.61 349.25 L446.31 348.7 L445.98 348.16 L445.63 347.65 L445.25 347.16 L444.86 346.7 L444.44 346.27 L444.02 345.87 L443.58 345.52 L443.14 345.2 L442.69 344.93 L442.25 344.7 L441.81 344.52 L441.37 344.39 L440.95 344.3 L440.53 344.27 L440.14 344.29 L439.76 344.36 L439.41 344.47 L439.08 344.64 L438.78 344.85 L438.51 345.11 L438.27 345.42 L438.06 345.76 L437.89 346.14 L437.75 346.56 L437.66 347.01 L437.6 347.5 L437.58 348 L437.6 348.53 L437.66 349.08 L437.75 349.64 L437.89 350.21 L438.06 350.78 L438.27 351.36 L438.51 351.93 L438.78 352.49 L439.08 353.04 L439.41 353.58 L439.76 354.09 L440.14 354.58 L440.53 355.04 L440.95 355.47 L441.37 355.87 L441.81 356.22 L442.25 356.54 L442.69 356.81 L443.14 357.04 L443.58 357.22 L444.02 357.35 L444.44 357.43 L444.86 357.47 L445.25 357.45 L445.63 357.38 L445.98 357.27 L446.31 357.1 L446.61 356.89 L446.88 356.63 L447.12 356.32 L447.33 355.98 L447.5 355.6 L447.64 355.18 L447.73 354.73 L447.79 354.24 L447.81 353.74 Z"/></clipPath>
<path d="M442.35 358.31 L442.56 358.36 L442.77 358.39 L442.97 358.41 L443.17 358.43 L443.36 358.42 L443.55 358.41 L443.74 358.39 L443.92 358.35 L444.1 358.3 L444.27 358.24 L444.43 358.17 L444.59 358.09 L444.74 357.99 L444.89 357.89 L445.03 357.77 L445.16 357.65 L445.28 357.51 L445.4 357.36 L445.51 357.2 L445.61 357.04 L445.7 356.86 L445.79 356.68 L445.86 356.48 L445.93 356.28 L445.99 356.07 L446.03 355.85 L446.07 355.63 L446.11 355.39 L446.13 355.15 L446.14 354.91 L446.14 354.66 L446.14 354.4 L446.12 354.14 L446.1 353.88 L446.06 353.61 L446.02 353.34 L445.97 353.07 L445.91 352.79 L445.84 352.51 L445.76 352.23 L445.68 351.96 L445.58 351.68 L445.48 351.4 L445.37 351.12 L445.25 350.84 L445.12 350.56 L444.99 350.29 L444.85 350.02 L444.7 349.75 L444.55 349.49 L444.39 349.23 L444.22 348.97 L444.05 348.72 L443.87 348.48 L443.69 348.24 L443.5 348.01 L443.31 347.79 L443.11 347.57 L442.91 347.36 L442.71 347.16 L442.5 346.96 L442.29 346.78 L442.08 346.6 L441.87 346.44 L441.65 346.28 L441.44 346.13 L441.22 346 L441 345.87 L440.79 345.76 L440.57 345.65 L440.35 345.56 L440.14 345.48" fill="none" stroke="#151515" stroke-width="1.5" stroke-linejoin="round" stroke-linecap="round" clip-path="url(#lh)"/>
<path d="M434.7 364.8 L440.5 368.2 L446.5 371.4" fill="none" stroke="#151515" stroke-width="1.3" stroke-linejoin="round" stroke-linecap="round"/>
<g opacity="0.995">
<text x="316.6" y="87.5" font-size="16" text-anchor="middle" fill="#303030" letter-spacing="0.45" transform="rotate(-90 316.6 87.5)">4020FAN</text>
<text x="361.9" y="83.2" font-size="15" text-anchor="middle" fill="#303030" transform="rotate(-90 361.9 83.2)">40</text>
<text x="226" y="182.1" font-size="15" text-anchor="middle" fill="#303030">130</text>
<text x="410.7" y="100.5" font-size="15" text-anchor="middle" fill="#303030" transform="rotate(-90 410.7 100.5)">25</text>
<text x="196.5" y="227.1" font-size="15" text-anchor="middle" fill="#303030">90</text>
<text x="98.8" y="252.1" font-size="15" text-anchor="middle" fill="#303030">20</text>
<text x="172.9" y="252.1" font-size="15" text-anchor="middle" fill="#303030">50</text>
<text x="293.6" y="266.2" font-size="15" text-anchor="middle" fill="#303030">3.50</text>
<text x="272.2" y="282.7" font-size="15" text-anchor="middle" fill="#303030" transform="rotate(-90 272.2 282.7)">4</text>
<text x="361.2" y="352.6" font-size="15" text-anchor="middle" fill="#303030" transform="rotate(-90 361.2 352.6)">54</text>
</g>
</svg>
</body>
</html>
